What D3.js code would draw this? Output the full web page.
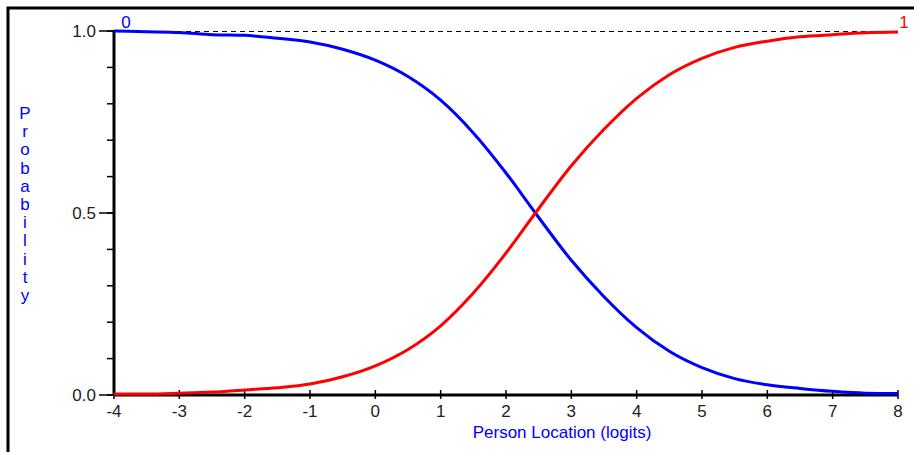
<!DOCTYPE html>
<html>
<head>
<meta charset="utf-8">
<script src="https://cdn.jsdelivr.net/npm/d3@7"></script>
<style>
  body { margin: 0; background: #fff; }
  text { font-family: "Liberation Sans", Arial, sans-serif; }
</style>
</head>
<body>
<div id="chart"></div>
<script>
// person locations (logits) where the curves were read
var locations = [-4, -3.5, -3, -2.5, -2, -1.5, -1, -0.5, 0, 0.5, 1, 1.5, 2, 2.45, 3, 3.5, 4, 4.5, 5, 5.5, 6, 6.5, 7, 7.5, 8];
// category 0 probability
var prob0 = [1.0, 0.998, 0.996, 0.99, 0.988, 0.98, 0.97, 0.95, 0.92, 0.875, 0.81, 0.72, 0.61, 0.5, 0.37, 0.27, 0.185, 0.12, 0.075, 0.045, 0.028, 0.018, 0.01, 0.005, 0.004];
// category 1 probability
var prob1 = [0.003, 0.003, 0.005, 0.008, 0.014, 0.02, 0.03, 0.05, 0.08, 0.125, 0.19, 0.28, 0.39, 0.5, 0.63, 0.73, 0.815, 0.88, 0.925, 0.955, 0.972, 0.984, 0.99, 0.995, 0.997];
var xTicks = [-4, -3, -2, -1, 0, 1, 2, 3, 4, 5, 6, 7, 8];
var yMajor = [0, 0.5, 1];
var yMinor = [0, 0.1, 0.2, 0.3, 0.4, 0.5, 0.6, 0.7, 0.8, 0.9, 1];

var W = 914, H = 452;
var svg = d3.select("#chart").append("svg")
    .attr("width", W)
    .attr("height", H);

// frame
svg.append("path")
    .attr("d", "M8," + H + "V8H" + W)
    .attr("fill", "none")
    .attr("stroke", "#000")
    .attr("stroke-width", 3);

var x = d3.scaleLinear().domain([-4, 8]).range([114, 898]);
var y = d3.scaleLinear().domain([0, 1]).range([395, 31]);

// dashed line at 1.0
svg.append("line")
    .attr("x1", x(-4)).attr("x2", x(8))
    .attr("y1", y(1) + 0.5).attr("y2", y(1) + 0.5)
    .attr("stroke", "#000")
    .attr("shape-rendering", "crispEdges")
    .attr("stroke-dasharray", "5,4");

// y axis: minor ticks
svg.selectAll(".ymin")
    .data(yMinor)
  .enter().append("line")
    .attr("x1", 107).attr("x2", 114)
    .attr("y1", function(d) { return y(d); })
    .attr("y2", function(d) { return y(d); })
    .attr("stroke", "#000")
    .attr("stroke-width", 1.5);

svg.selectAll(".ymaj")
    .data(yMajor)
  .enter().append("line")
    .attr("x1", 99).attr("x2", 114)
    .attr("y1", function(d) { return y(d); })
    .attr("y2", function(d) { return y(d); })
    .attr("stroke", "#000")
    .attr("stroke-width", 1.5);

svg.selectAll(".ylab")
    .data(yMajor)
  .enter().append("text")
    .attr("x", 96)
    .attr("y", function(d) { return y(d) + 6; })
    .attr("text-anchor", "end")
    .attr("font-size", 17)
    .attr("fill", "#222")
    .text(function(d) { return d3.format(".1f")(d); });

// x axis ticks
svg.selectAll(".xt")
    .data(xTicks)
  .enter().append("line")
    .attr("x1", function(d) { return x(d); })
    .attr("x2", function(d) { return x(d); })
    .attr("y1", 390).attr("y2", 399)
    .attr("stroke", "#000")
    .attr("stroke-width", 1.5);

svg.selectAll(".xlab")
    .data(xTicks)
  .enter().append("text")
    .attr("x", function(d) { return x(d); })
    .attr("y", 417)
    .attr("text-anchor", "middle")
    .attr("font-size", 17)
    .attr("fill", "#222")
    .text(function(d) { return d; });

// axis lines
svg.append("line")
    .attr("x1", x(-4)).attr("x2", x(-4))
    .attr("y1", y(1)).attr("y2", y(0) + 1)
    .attr("stroke", "#000").attr("stroke-width", 3);
svg.append("line")
    .attr("x1", x(-4)).attr("x2", x(8))
    .attr("y1", y(0)).attr("y2", y(0))
    .attr("stroke", "#000").attr("stroke-width", 3);

// curves
var line = d3.line()
    .x(function(d) { return x(d[0]); })
    .y(function(d) { return y(d[1]); })
    .curve(d3.curveMonotoneX);

svg.append("path")
    .datum(d3.zip(locations, prob0))
    .attr("d", line)
    .attr("fill", "none")
    .attr("stroke", "#0000ff")
    .attr("stroke-width", 3);

svg.append("path")
    .datum(d3.zip(locations, prob1))
    .attr("d", line)
    .attr("fill", "none")
    .attr("stroke", "#ff0000")
    .attr("stroke-width", 3);

// category labels
svg.append("text")
    .attr("x", 126).attr("y", 28)
    .attr("text-anchor", "middle")
    .attr("font-size", 17)
    .attr("fill", "#0000ff")
    .text("0");
svg.append("text")
    .attr("x", 904).attr("y", 28)
    .attr("text-anchor", "middle")
    .attr("font-size", 17)
    .attr("fill", "#ff0000")
    .text("1");

// axis titles
svg.append("text")
    .attr("x", 562).attr("y", 438)
    .attr("text-anchor", "middle")
    .attr("font-size", 17)
    .attr("fill", "#0000ff")
    .text("Person Location (logits)");

var yTitle = "Probability".split("");
svg.selectAll(".ytitle")
    .data(yTitle)
  .enter().append("text")
    .attr("x", 25)
    .attr("y", function(d, i) { return 119 + i * 18.2; })
    .attr("text-anchor", "middle")
    .attr("font-size", 17)
    .attr("fill", "#0000ff")
    .text(function(d) { return d; });
</script>
</body>
</html>
